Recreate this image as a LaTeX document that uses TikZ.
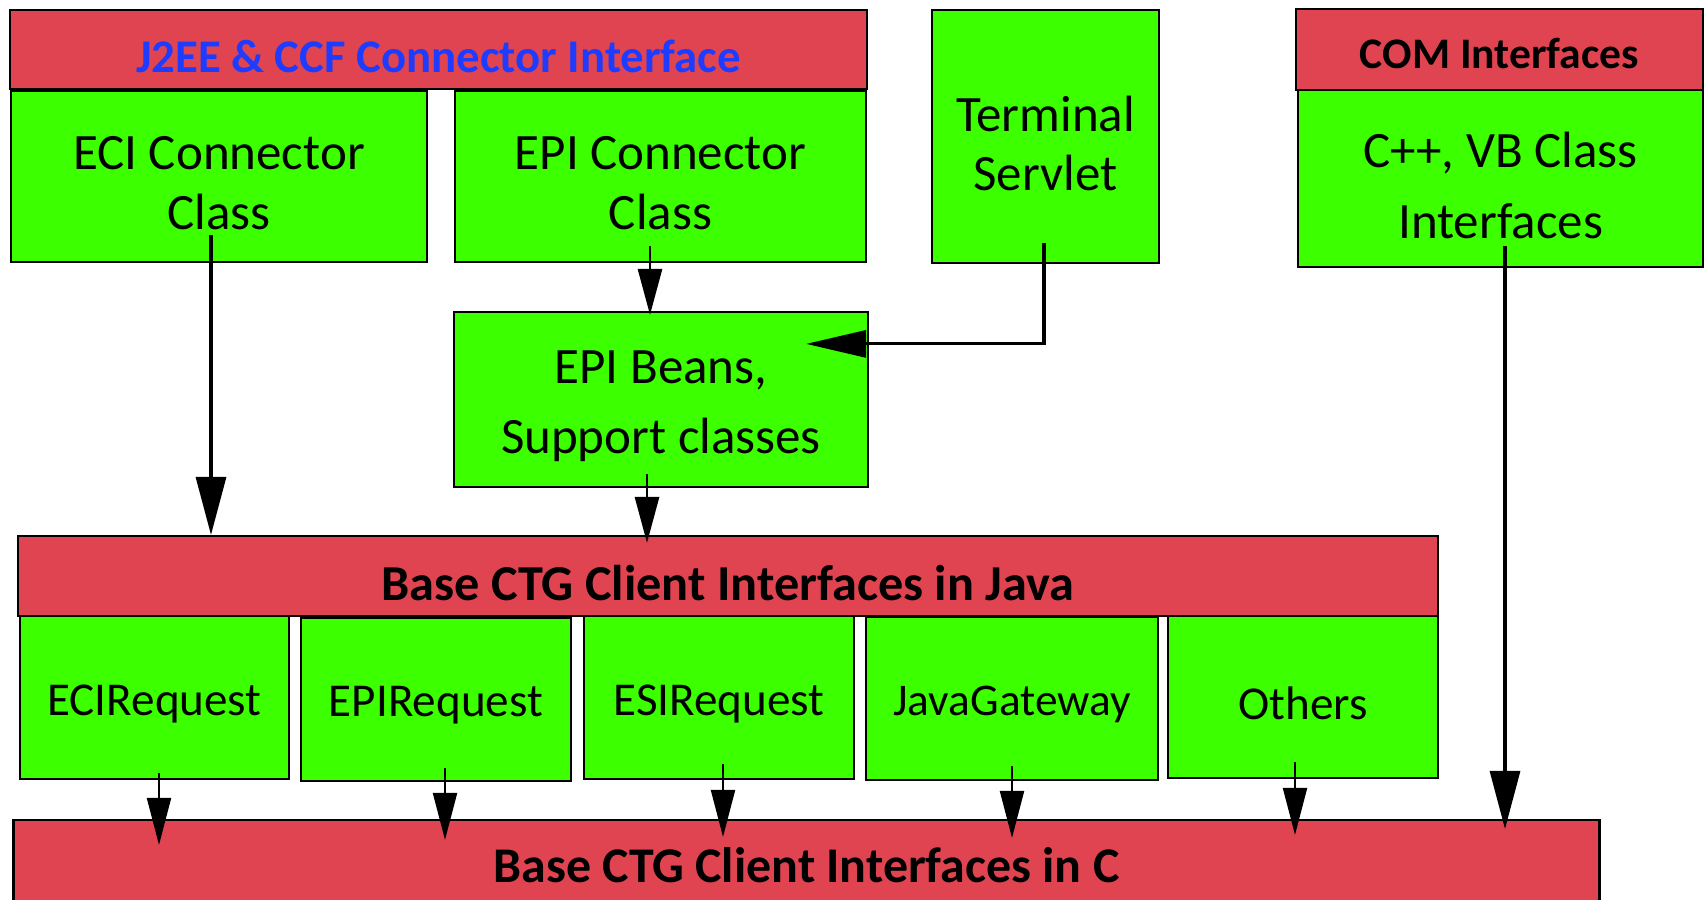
\documentclass[tikz,border=0pt]{standalone}
\usepackage{fontspec}
\setmainfont{Carlito}
\usetikzlibrary{arrows.meta,calc}
\definecolor{barred}{RGB}{224,68,80}
\definecolor{boxgreen}{RGB}{60,255,0}
\definecolor{titleblue}{RGB}{30,60,255}
\begin{document}
\begin{tikzpicture}[x=0.01cm,y=-0.01cm,
  box/.style={draw=black, line width=0.6pt, inner sep=0pt},
  greenbox/.style={box, fill=boxgreen},
  redbar/.style={box, fill=barred},
  gtxt/.style={align=center, inner sep=0pt, font=\fontsize{14.5}{17}\selectfont},
  rtxt/.style={align=center, inner sep=0pt, font=\fontsize{13.4}{16}\selectfont},
  htxt/.style={align=center, inner sep=0pt, font=\bfseries\fontsize{#1}{16}\selectfont},
  bigarrow/.style={line width=0.9pt, -{Triangle[length=0.58cm,width=0.30cm]}},
  midarrow/.style={line width=0.8pt, -{Triangle[length=0.46cm,width=0.24cm]}},
  smallarrow/.style={line width=0.6pt, -{Triangle[length=0.47cm,width=0.24cm]}}
]
\useasboundingbox (0,0) rectangle (1706,900);

% top row
\node[redbar, minimum width=8.57cm, minimum height=0.79cm,
  label={[htxt=13.3, text=titleblue, yshift=-0.07cm]center:J2EE \& CCF Connector Interface}] (j2ee) at (438.5,49.5) {};
\node[greenbox, minimum width=4.16cm, minimum height=1.71cm,
  label={[gtxt, yshift=-0.07cm]center:{ECI Connector\\Class}}] (eci) at (219,176.5) {};
\node[greenbox, minimum width=4.11cm, minimum height=1.71cm,
  label={[gtxt, yshift=-0.07cm]center:{EPI Connector\\Class}}] (epic) at (660.5,176.5) {};
\node[greenbox, minimum width=2.27cm, minimum height=2.53cm,
  label={[gtxt, yshift=-0.07cm]center:{Terminal\\Servlet}}] (term) at (1045.5,136.5) {};
\node[redbar, minimum width=4.07cm, minimum height=0.81cm,
  label={[htxt=12.4, yshift=-0.04cm]center:COM Interfaces}] (com) at (1499.5,49.5) {};
\node[greenbox, minimum width=4.05cm, minimum height=1.77cm,
  label={[gtxt, yshift=-0.07cm]center:{C++, VB Class\\[3pt]Interfaces}}] (cpp) at (1500.5,178.5) {};

% middle
\node[greenbox, minimum width=4.14cm, minimum height=1.75cm,
  label={[gtxt, yshift=-0.07cm]center:{EPI Beans,\\[3pt]Support classes}}] (beans) at (661,399.5) {};
\node[redbar, minimum width=14.20cm, minimum height=0.80cm,
  label={[htxt=14.3, yshift=-0.07cm]center:Base CTG Client Interfaces in Java}] (java) at (728,576) {};

% request row
\node[greenbox, minimum width=2.69cm, minimum height=1.63cm,
  label={[rtxt, yshift=-0.06cm]center:ECIRequest}] (ecir) at (154.5,697.5) {};
\node[greenbox, minimum width=2.70cm, minimum height=1.63cm,
  label={[rtxt, yshift=-0.06cm]center:EPIRequest}] (epir) at (436,699.5) {};
\node[greenbox, minimum width=2.70cm, minimum height=1.63cm,
  label={[rtxt, yshift=-0.06cm]center:ESIRequest}] (esir) at (719,697.5) {};
\node[greenbox, minimum width=2.92cm, minimum height=1.63cm,
  label={[rtxt, font=\fontsize{12.9}{16}\selectfont, yshift=-0.06cm]center:JavaGateway}] (jgw) at (1012,698.5) {};
\node[greenbox, minimum width=2.70cm, minimum height=1.62cm,
  label={[rtxt, yshift=-0.06cm]center:Others}] (oth) at (1303,697) {};

% bottom bar
\node[redbar, minimum width=15.85cm, minimum height=0.90cm,
  label={[htxt=14.2]center:Base CTG Client Interfaces in C}] (cbar) at (806.5,865) {};

% connectors
\coordinate (s1) at ($(eci.south)+(-8,-28)$);
\draw[bigarrow] (s1) -- (s1 |- java.north);
\coordinate (s2) at ($(epic.south)+(-10.5,-17)$);
\draw[midarrow] (s2) -- ($(s2 |- beans.north)+(0,4)$);
\coordinate (s3) at ($(term.south)+(-1.5,-21)$);
\coordinate (t3) at ($(beans.north east)+(-63,33)$);
\draw[line width=0.9pt, -{Triangle[length=0.60cm,width=0.27cm]}] (s3) |- (t3);
\coordinate (s4) at ($(beans.south)+(-14,-14)$);
\draw[midarrow] (s4) -- ($(s4 |- java.north)+(0,8)$);
\coordinate (s5) at ($(cpp.south)+(4.5,-22)$);
\draw[bigarrow] (s5) -- ($(s5 |- cbar.north)+(0,10)$);

\coordinate (r1) at ($(ecir.south)+(4.5,-7)$);
\draw[smallarrow] (r1) -- ($(r1 |- cbar.north)+(0,26)$);
\coordinate (r2) at ($(epir.south)+(9,-14)$);
\draw[smallarrow] (r2) -- ($(r2 |- cbar.north)+(0,21)$);
\coordinate (r3) at ($(esir.south)+(4,-16)$);
\draw[smallarrow] (r3) -- ($(r3 |- cbar.north)+(0,18)$);
\coordinate (r4) at ($(jgw.south)+(0,-15)$);
\draw[smallarrow] (r4) -- ($(r4 |- cbar.north)+(0,19)$);
\coordinate (r5) at ($(oth.south)+(-8,-17)$);
\draw[smallarrow] (r5) -- ($(r5 |- cbar.north)+(0,16)$);
\end{tikzpicture}
\end{document}
